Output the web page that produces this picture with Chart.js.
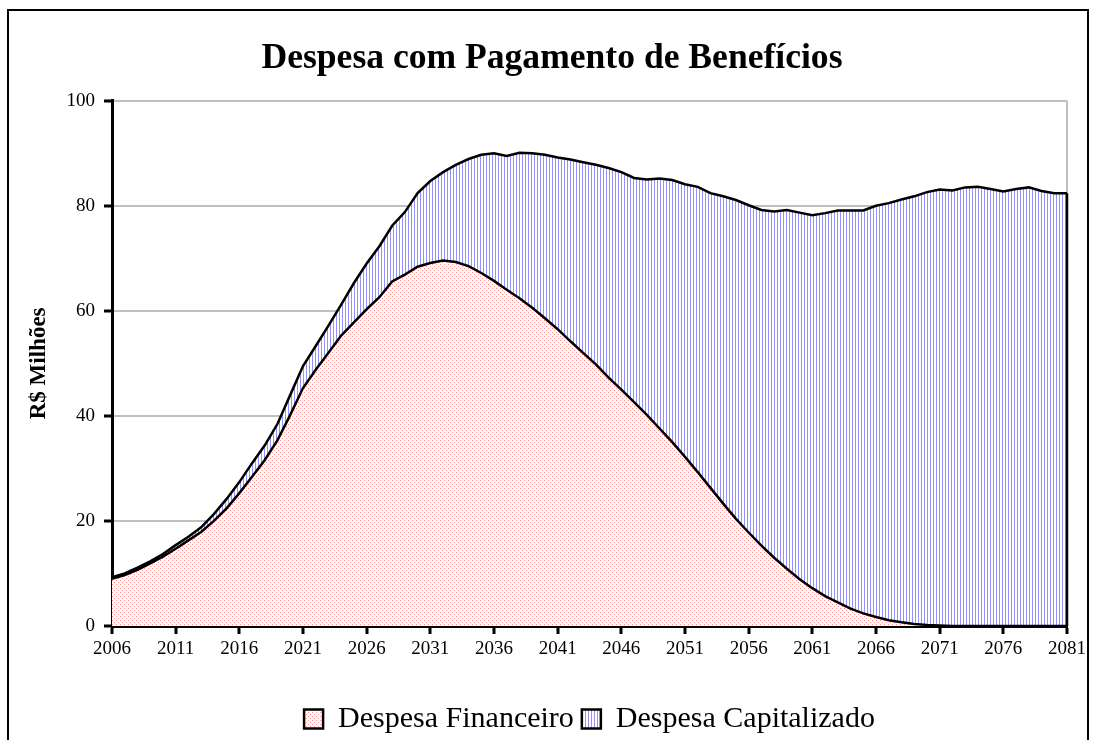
<!DOCTYPE html>
<html lang="pt">
<head>
<meta charset="utf-8">
<title>Despesa com Pagamento de Benefícios</title>
<script src="https://cdn.jsdelivr.net/npm/chart.js@4.4.1/dist/chart.umd.min.js"></script>
<style>
  html, body { margin: 0; padding: 0; background: #fff; overflow: hidden; }
  canvas { display: block; }
</style>
</head>
<body>
<canvas id="chart" width="1094" height="740"></canvas>
<script>
// Despesa com Pagamento de Benefícios — stacked area

const FONT = "'Liberation Serif', 'Times New Roman', serif";

// ===== DATA =====
const years = [
  '2006', '2007', '2008', '2009', '2010', '2011', '2012', '2013', '2014', '2015',
  '2016', '2017', '2018', '2019', '2020', '2021', '2022', '2023', '2024', '2025',
  '2026', '2027', '2028', '2029', '2030', '2031', '2032', '2033', '2034', '2035',
  '2036', '2037', '2038', '2039', '2040', '2041', '2042', '2043', '2044', '2045',
  '2046', '2047', '2048', '2049', '2050', '2051', '2052', '2053', '2054', '2055',
  '2056', '2057', '2058', '2059', '2060', '2061', '2062', '2063', '2064', '2065',
  '2066', '2067', '2068', '2069', '2070', '2071', '2072', '2073', '2074', '2075',
  '2076', '2077', '2078', '2079', '2080', '2081',
];

// R$ milhões
const despesaFinanceiro = [
  9.0, 9.7, 10.7, 11.9, 13.2, 14.7, 16.3, 17.9, 20.0, 22.4,
  25.3, 28.4, 31.6, 35.4, 40.2, 45.3, 48.8, 52.0, 55.3, 57.8,
  60.3, 62.6, 65.6, 66.9, 68.4, 69.1, 69.6, 69.3, 68.5, 67.2,
  65.7, 64.0, 62.4, 60.6, 58.6, 56.5, 54.2, 52.0, 49.8, 47.3,
  45.0, 42.6, 40.2, 37.6, 35.0, 32.2, 29.3, 26.3, 23.3, 20.4,
  17.8, 15.3, 13.0, 10.9, 8.9, 7.2, 5.7, 4.5, 3.3, 2.4,
  1.7, 1.1, 0.7, 0.4, 0.2, 0.1, 0.0, 0.0, 0.0, 0.0,
  0.0, 0.0, 0.0, 0.0, 0.0, 0.0,
];

const despesaCapitalizado = [
  0.3, 0.3, 0.4, 0.4, 0.5, 0.7, 0.7, 0.9, 1.3, 1.8,
  2.1, 2.6, 2.8, 3.1, 3.8, 4.2, 4.5, 5.2, 5.9, 7.5,
  8.7, 9.7, 10.6, 11.9, 14.0, 15.6, 16.8, 18.5, 20.4, 22.5,
  24.3, 25.5, 27.7, 29.4, 31.1, 32.7, 34.6, 36.3, 38.0, 39.9,
  41.4, 42.7, 44.8, 47.6, 49.9, 51.9, 54.3, 56.1, 58.5, 60.7,
  62.3, 63.9, 65.9, 68.3, 69.8, 71.0, 72.9, 74.6, 75.8, 76.7,
  78.3, 79.4, 80.5, 81.4, 82.4, 83.0, 82.9, 83.5, 83.6, 83.2,
  82.7, 83.2, 83.5, 82.8, 82.4, 82.4,
];

const yTicks = [0, 20, 40, 60, 80, 100];

// ===== PATTERNS =====
function dotPattern(ctx) {
  const c = document.createElement('canvas');
  c.width = 4; c.height = 4;
  const p = c.getContext('2d');
  p.fillStyle = '#ffffff';
  p.fillRect(0, 0, 4, 4);
  p.fillStyle = '#ff9090';
  p.fillRect(0, 0, 1, 1);
  p.fillRect(2, 2, 1, 1);
  return ctx.createPattern(c, 'repeat');
}

function stripePattern(ctx) {
  const c = document.createElement('canvas');
  c.width = 3; c.height = 1;
  const p = c.getContext('2d');
  p.fillStyle = '#ffffff';
  p.fillRect(0, 0, 3, 1);
  p.fillStyle = '#9393ff';
  p.fillRect(0, 0, 1, 1);
  return ctx.createPattern(c, 'repeat');
}

// ===== PLUGINS =====
// outer frame of the picture + closing edge of the area at the last year
const framePlugin = {
  id: 'frame',
  afterDatasetsDraw(chart) {
    const meta = chart.getDatasetMeta(1);
    const last = meta.data[meta.data.length - 1];
    const y0 = chart.scales.y.getPixelForValue(0);
    const ctx = chart.ctx;
    ctx.save();
    ctx.strokeStyle = '#000';
    ctx.lineWidth = 2.5;
    ctx.beginPath();
    ctx.moveTo(last.x, last.y);
    ctx.lineTo(last.x, y0);
    ctx.stroke();
    ctx.restore();
  },
  afterDraw(chart) {
    const ctx = chart.ctx;
    ctx.save();
    ctx.strokeStyle = '#000';
    ctx.lineWidth = 2;
    ctx.strokeRect(8, 10, 1080, 800);
    ctx.restore();
  },
};

// ===== CHART =====
function initChart() {
  const ctx = document.getElementById('chart').getContext('2d');
  const lastIndex = years.length - 1;

  return new Chart(ctx, {
    type: 'line',
    data: {
      labels: years,
      datasets: [
        {
          label: 'Despesa Financeiro',
          data: despesaFinanceiro,
          backgroundColor: dotPattern(ctx),
          borderColor: '#000',
          borderWidth: 2.5,
          fill: 'origin',
          pointRadius: 0,
          tension: 0,
        },
        {
          label: 'Despesa Capitalizado',
          data: despesaCapitalizado,
          backgroundColor: stripePattern(ctx),
          borderColor: '#000',
          borderWidth: 2.5,
          fill: '-1',
          pointRadius: 0,
          tension: 0,
        },
      ],
    },
    options: {
      responsive: false,
      animation: false,
      layout: { padding: { left: 37, right: 27, top: 0, bottom: -4 } },
      plugins: {
        tooltip: { enabled: false },
        title: {
          display: true,
          text: 'Despesa com Pagamento de Benefícios',
          color: '#000',
          font: { family: FONT, size: 35.6, weight: 'bold' },
          padding: { top: 37, bottom: 21 },
        },
        legend: {
          position: 'bottom',
          fullSize: false,
          labels: {
            color: '#000',
            font: { family: FONT, size: 30 },
            boxWidth: 19,
            boxHeight: 19,
            padding: 8,
          },
        },
      },
      scales: {
        x: {
          offset: false,
          afterFit(scale) { scale.height = 70; },
          border: { color: '#000', width: 3 },
          grid: {
            offset: false,
            color: (c) => (c.index === lastIndex ? '#c0c0c0' : 'rgba(0,0,0,0)'),
            lineWidth: 2,
            tickColor: (c) => (c.index % 5 === 0 ? '#000' : 'rgba(0,0,0,0)'),
            tickLength: 8,
            tickWidth: 3,
          },
          ticks: {
            autoSkip: false,
            maxRotation: 0,
            padding: 4,
            color: '#000',
            font: { family: FONT, size: 19 },
            callback(val, index) {
              return index % 5 === 0 ? this.getLabelForValue(val) : '';
            },
          },
        },
        y: {
          stacked: true,
          min: yTicks[0],
          max: yTicks[yTicks.length - 1],
          afterFit(scale) { scale.width = 75; },
          afterBuildTicks(scale) { scale.ticks = yTicks.map(v => ({ value: v })); },
          border: { color: '#000', width: 3 },
          grid: {
            color: (c) => (c.tick && c.tick.value === 0 ? 'rgba(0,0,0,0)' : '#c0c0c0'),
            lineWidth: 2,
            tickColor: '#000',
            tickLength: 8,
            tickWidth: 3,
          },
          ticks: {
            padding: 9,
            color: '#000',
            font: { family: FONT, size: 19 },
          },
          title: {
            display: true,
            text: 'R$ Milhões',
            color: '#000',
            font: { family: FONT, size: 23, weight: 'bold' },
            padding: { top: -12, bottom: 0 },
          },
        },
      },
    },
    plugins: [framePlugin],
  });
}

// Initialize
initChart();
</script>
</body>
</html>
